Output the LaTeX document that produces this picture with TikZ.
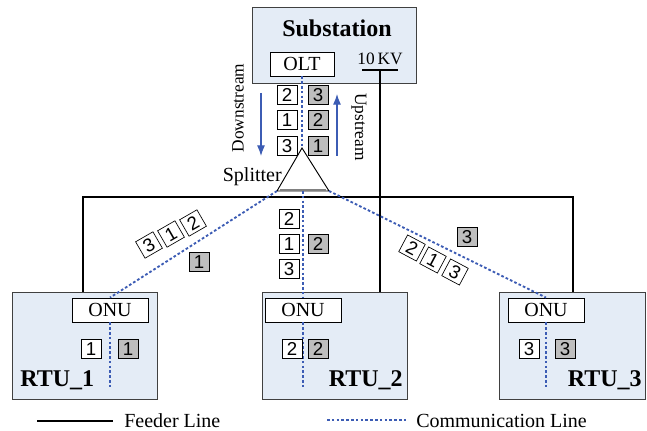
\documentclass[tikz,border=0pt]{standalone}
\usepackage{fontspec}
\setmainfont{Liberation Serif}
\newfontfamily\pktfont{Liberation Sans}
\usetikzlibrary{arrows.meta}
\definecolor{siteblue}{RGB}{228,236,246}
\definecolor{linkblue}{RGB}{60,92,180}
\definecolor{pktgray}{RGB}{190,190,190}

\begin{document}
\begin{tikzpicture}[x=0.75pt,y=-0.75pt]
\tikzset{font=\fontsize{15}{18}\selectfont}
\tikzset{site/.style={draw=black!75, fill=siteblue, line width=0.6pt, inner sep=0}}
\tikzset{port/.style={draw, fill=white, line width=0.6pt, minimum width=57pt, minimum height=18pt, inner sep=0}}
\tikzset{pkt/.style={draw, fill=white, line width=0.5pt, font=\pktfont\fontsize{14}{14}\selectfont, minimum width=15pt, minimum height=14.2pt, inner sep=0}}
\tikzset{pktup/.style={pkt, fill=pktgray}}
\tikzset{tag/.style={font=\bfseries\fontsize{18}{20}\selectfont, inner sep=0}}
\tikzset{small/.style={font=\fontsize{13}{15}\selectfont, inner sep=0}}
\tikzset{feeder/.style={line width=1.4pt}}
\tikzset{comm/.style={draw=linkblue, line width=1.4pt, dash pattern=on 2pt off 1.6pt}}
\tikzset{flow/.style={linkblue, line width=0.8pt, -{Latex[length=8pt,width=6pt]}}}

\useasboundingbox (0,0) rectangle (647,431);

% substation with OLT and 10 KV bar
\node[site, minimum width=123pt, minimum height=57pt] (sub) at (334,45) {};
\node[tag, anchor=base] (subname) at (337,37) {Substation};
\node[port, minimum width=48pt] (olt) at (302,64) {OLT};
\node[small, anchor=base] (kvname) at (380,65) {10\,KV};
\coordinate (kvL) at (362,70);
\coordinate (kvR) at (398,70);
\coordinate (kv) at (380,70);

% RTUs
\node[site, minimum width=108.75pt, minimum height=80.25pt] (rtu1) at (84.5,345.5) {};
\node[site, minimum width=108.75pt, minimum height=80.25pt] (rtu2) at (334.5,345.5) {};
\node[site, minimum width=109.5pt, minimum height=80.25pt] (rtu3) at (572,345.5) {};
\node[port] (onu1) at (110,310) {ONU};
\node[port] (onu2) at (303,310) {ONU};
\node[port] (onu3) at (546,310) {ONU};
\node[tag, anchor=base west] (name1) at (20,387) {RTU\_1};
\node[tag, anchor=base east] (name2) at (403,387) {RTU\_2};
\node[tag, anchor=base east] (name3) at (642,387) {RTU\_3};
\coordinate (tail1) at (110,387);
\coordinate (tail2) at (303,387);
\coordinate (tail3) at (546,387);

% feeder lines
\coordinate (busL) at (83,197);
\coordinate (busR) at (573,197);
\draw[feeder] (kvL) -- (kvR);
\draw[feeder] (kv) -- (kv |- rtu2.north);
\draw[feeder] (busL |- rtu1.north) -- (busL) -- (busR) -- (busR |- rtu3.north);

% splitter
\coordinate (spTop) at (302,148);
\coordinate (spL) at (277,191);
\coordinate (spR) at (329,191);
\coordinate (spB) at (303,191);
\draw[fill=white, line width=0.7pt] (spTop) -- (spL) -- (spR) -- cycle;
\draw[gray, line width=1.6pt] ([xshift=2pt,yshift=0.8pt]spL) -- ([xshift=-2pt,yshift=0.8pt]spR);
\node[anchor=base east, inner sep=0] (spname) at (282,182) {Splitter};

% communication lines
\draw[comm] (olt.south) -- (spTop);
\draw[comm] (spL) -- (onu1.north);
\draw[comm] (spB) -- (onu2.north);
\draw[comm] (spR) -- (onu3.north);
\foreach \i in {1,2,3}
  \draw[comm] (onu\i.south) -- (tail\i);

% traffic direction
\coordinate (dsA) at (261,93);
\coordinate (dsB) at (261,156);
\coordinate (usA) at (337,156);
\coordinate (usB) at (337,94);
\draw[flow] (dsA) -- (dsB);
\draw[flow] (usA) -- (usB);
\node[small, rotate=90] (dsname) at (238,108) {Downstream};
\node[small, rotate=-90] (usname) at (359,127) {Upstream};

% frames at the OLT
\foreach \t/\y [count=\k] in {2/95,1/120,3/146}
  \node[pkt] (dn\k) at (287,\y) {\t};
\foreach \t/\y [count=\k] in {3/95,2/120,1/146}
  \node[pktup] (up\k) at (318,\y) {\t};

% frames on the drop fibres
\foreach \t/\x/\y [count=\k] in {3/149/245,1/171/234,2/193/223}
  \node[pkt, rotate=30] (da\k) at (\x,\y) {\t};
\foreach \t/\y [count=\k] in {2/219,1/244,3/269}
  \node[pkt] (db\k) at (289,\y) {\t};
\foreach \t/\x/\y [count=\k] in {2/412/248,1/433/260,3/455/272}
  \node[pkt, rotate=-28] (dc\k) at (\x,\y) {\t};
\node[pktup] (ua) at (199,262) {1};
\node[pktup] (ub) at (318,244) {2};
\node[pktup] (uc) at (467,237) {3};

% frames at the RTUs
\node[pkt] (r1d) at (91,349) {1};
\node[pktup] (r1u) at (128,349) {1};
\node[pkt] (r2d) at (292,349) {2};
\node[pktup] (r2u) at (318,349) {2};
\node[pkt] (r3d) at (529,349) {3};
\node[pktup] (r3u) at (565,349) {3};

% legend
\coordinate (lgA) at (37,421);
\coordinate (lgB) at (113,421);
\coordinate (lgC) at (327,420);
\coordinate (lgD) at (406,420);
\draw[feeder] (lgA) -- (lgB);
\node[anchor=base west, inner sep=0] (lgfeeder) at (124,427) {Feeder Line};
\draw[comm] (lgC) -- (lgD);
\node[anchor=base west, inner sep=0] (lgcomm) at (416,427) {Communication Line};
\end{tikzpicture}
\end{document}
